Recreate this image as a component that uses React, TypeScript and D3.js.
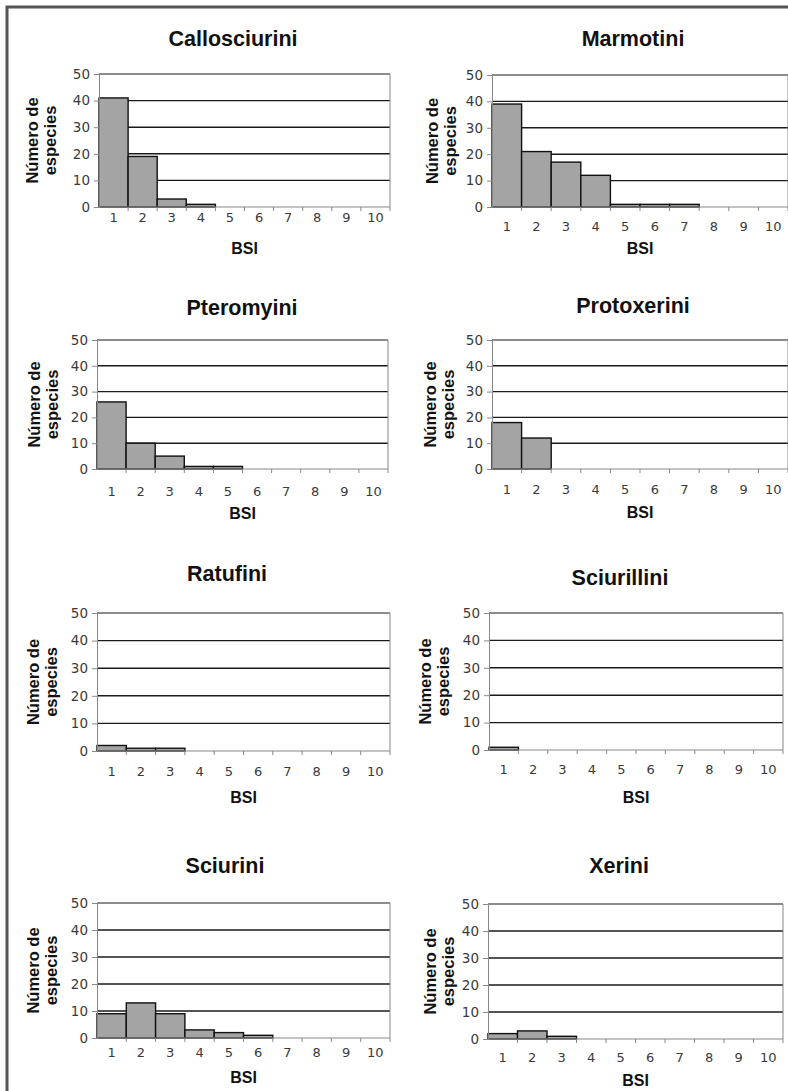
import React, { useEffect, useRef } from "react";
import * as d3 from "d3";

// BSI classes on the x axis
const bsi = ["1", "2", "3", "4", "5", "6", "7", "8", "9", "10"];
const yTicks = [0, 10, 20, 30, 40, 50];

// number of species per BSI class, per tribe
const tribes = ["Callosciurini", "Marmotini", "Pteromyini", "Protoxerini", "Ratufini", "Sciurillini", "Sciurini", "Xerini"];
const callosciurini = [41, 19, 3, 1, 0, 0, 0, 0, 0, 0];
const marmotini = [39, 21, 17, 12, 1, 1, 1, 0, 0, 0];
const pteromyini = [26, 10, 5, 1, 1, 0, 0, 0, 0, 0];
const protoxerini = [18, 12, 0, 0, 0, 0, 0, 0, 0, 0];
const ratufini = [2, 1, 1, 0, 0, 0, 0, 0, 0, 0];
const sciurillini = [1, 0, 0, 0, 0, 0, 0, 0, 0, 0];
const sciurini = [9, 13, 9, 3, 2, 1, 0, 0, 0, 0];
const xerini = [2, 3, 1, 0, 0, 0, 0, 0, 0, 0];
const series = [callosciurini, marmotini, pteromyini, protoxerini, ratufini, sciurillini, sciurini, xerini];

// where each little chart sits on the page
const layout = [
  { l: 99, r: 390, t: 74, b: 207, tx: 233, ty: 38, lx: 32, xy: 217, by: 248 },
  { l: 492, r: 788, t: 75, b: 207, tx: 633, ty: 38, lx: 432, xy: 226, by: 248 },
  { l: 97, r: 388, t: 340, b: 469, tx: 242, ty: 307, lx: 34, xy: 491, by: 513 },
  { l: 492, r: 788, t: 340, b: 469, tx: 633, ty: 305, lx: 430, xy: 489, by: 512 },
  { l: 97, r: 390, t: 613, b: 751, tx: 227, ty: 573, lx: 33, xy: 771, by: 797 },
  { l: 489, r: 783, t: 613, b: 750, tx: 620, ty: 577, lx: 425, xy: 769, by: 797 },
  { l: 97, r: 390, t: 903, b: 1038, tx: 225, ty: 865, lx: 33, xy: 1052, by: 1077 },
  { l: 488, r: 783, t: 904, b: 1039, tx: 619, ty: 865, lx: 430, xy: 1057, by: 1080 },
];

const W = 788;
const H = 1091;
const sans = "'Liberation Sans', Arial, sans-serif";
const verdana = "'DejaVu Sans', Verdana, sans-serif";

export default function App() {
  const ref = useRef<SVGSVGElement>(null);

  useEffect(() => {
    const svg = d3.select(ref.current);
    svg.selectAll("*").remove();

    svg.append("rect").attr("width", W).attr("height", H).attr("fill", "#fff");
    // outer frame
    svg
      .append("rect")
      .attr("x", 7)
      .attr("y", 7)
      .attr("width", W + 10)
      .attr("height", H + 10)
      .attr("fill", "none")
      .attr("stroke", "#555")
      .attr("stroke-width", 3);

    tribes.forEach((name, i) => {
      const p = layout[i];
      const vals = series[i];
      const g = svg.append("g");

      const x = d3.scaleBand().domain(bsi).range([p.l, p.r]).padding(0);
      const y = d3.scaleLinear().domain([0, 50]).range([p.b, p.t]);

      // gridlines
      g.selectAll(".grid")
        .data(yTicks.filter((d) => d > 0))
        .enter()
        .append("line")
        .attr("x1", p.l)
        .attr("x2", p.r)
        .attr("y1", (d) => y(d))
        .attr("y2", (d) => y(d))
        .attr("stroke", (d) => (d === 50 ? "#666" : "#1a1a1a"))
        .attr("stroke-width", 1.4);

      // right border of plot area
      g.append("line")
        .attr("x1", p.r)
        .attr("x2", p.r)
        .attr("y1", p.t)
        .attr("y2", p.b)
        .attr("stroke", "#888")
        .attr("stroke-width", 1);

      // bars
      g.selectAll(".bar")
        .data(vals.map((v, k) => ({ k: bsi[k], v })).filter((d) => d.v > 0))
        .enter()
        .append("rect")
        .attr("x", (d) => x(d.k)!)
        .attr("width", x.bandwidth())
        .attr("y", (d) => y(d.v))
        .attr("height", (d) => y(0) - y(d.v))
        .attr("fill", "#a4a4a4")
        .attr("stroke", "#111")
        .attr("stroke-width", 1.4);

      // y axis
      const ya = g
        .append("g")
        .attr("transform", `translate(${p.l},0)`)
        .call(d3.axisLeft(y).tickValues(yTicks).tickSize(5).tickPadding(4));
      ya.select(".domain").attr("stroke", "#888");
      ya.selectAll(".tick line").attr("stroke", "#888");
      ya.selectAll("text")
        .attr("font-family", verdana)
        .attr("font-size", 13.5)
        .attr("fill", "#3a3a3a");

      // x axis: ticks at class boundaries, labels centred in classes
      const xa = g.append("g").attr("transform", `translate(0,${p.b})`);
      xa.append("line")
        .attr("x1", p.l)
        .attr("x2", p.r)
        .attr("stroke", "#888")
        .attr("stroke-width", 1);
      xa.selectAll(".xt")
        .data(bsi)
        .enter()
        .append("line")
        .attr("x1", (d) => x(d)! + x.bandwidth())
        .attr("x2", (d) => x(d)! + x.bandwidth())
        .attr("y1", 0)
        .attr("y2", 4)
        .attr("stroke", "#888");
      g.selectAll(".xl")
        .data(bsi)
        .enter()
        .append("text")
        .attr("x", (d) => x(d)! + x.bandwidth() / 2)
        .attr("y", p.xy)
        .attr("dy", "0.35em")
        .attr("text-anchor", "middle")
        .attr("font-family", verdana)
        .attr("font-size", 13)
        .attr("fill", "#3a3a3a")
        .text((d) => d);

      // title
      g.append("text")
        .attr("x", p.tx)
        .attr("y", p.ty)
        .attr("dy", "0.35em")
        .attr("text-anchor", "middle")
        .attr("font-family", sans)
        .attr("font-weight", "bold")
        .attr("font-size", 21.5)
        .attr("fill", "#111")
        .text(name);

      // x axis title
      g.append("text")
        .attr("x", (p.l + p.r) / 2)
        .attr("y", p.by)
        .attr("dy", "0.35em")
        .attr("text-anchor", "middle")
        .attr("font-family", sans)
        .attr("font-weight", "bold")
        .attr("font-size", 16)
        .attr("fill", "#111")
        .text("BSI");

      // y axis title, two lines
      const mid = (p.t + p.b) / 2;
      ["Número de", "especies"].forEach((line, j) => {
        const cx = p.lx + j * 18;
        g.append("text")
          .attr("transform", `translate(${cx},${mid}) rotate(-90)`)
          .attr("dy", "0.35em")
          .attr("text-anchor", "middle")
          .attr("font-family", sans)
          .attr("font-weight", "bold")
          .attr("font-size", 16.5)
          .attr("fill", "#111")
          .text(line);
      });
    });
  }, []);

  return (
    <svg
      ref={ref}
      width={W}
      height={H}
      style={{ position: "absolute", left: 0, top: 0, display: "block" }}
    ></svg>
  );
}
